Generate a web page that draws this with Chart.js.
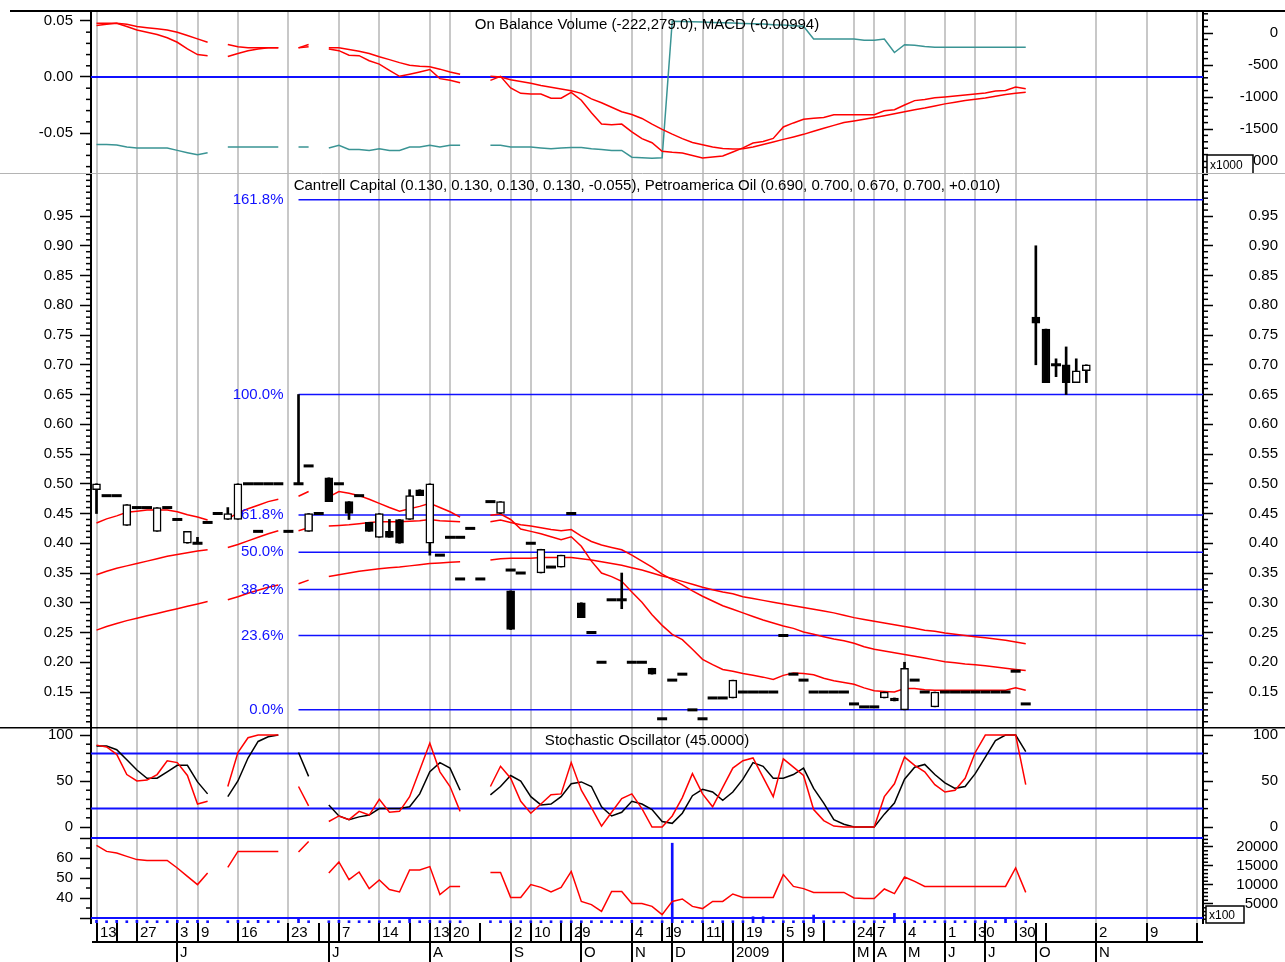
<!DOCTYPE html>
<html>
<head>
<meta charset="utf-8">
<script src="https://cdn.jsdelivr.net/npm/chart.js@4.4.1/dist/chart.umd.min.js"></script>
<style>
html, body { margin:0; padding:0; background:#fff; }
#wrap { position:relative; width:1285px; height:962px; overflow:hidden; background:#fff; }
#wrap canvas { position:absolute; left:0; }
</style>
</head>
<body>
<div id="wrap">
  <canvas id="cMacd" width="1285" height="173" style="top:0px"></canvas>
  <canvas id="cMain" width="1285" height="554" style="top:173px"></canvas>
  <canvas id="cStoch" width="1285" height="106" style="top:727px"></canvas>
  <canvas id="cRsi" width="1285" height="129" style="top:833px"></canvas>
</div>
<script>
// ---------------- DATA ----------------
// x positions are trading-slot indices 0..98
const TITLE_MACD = 'On Balance Volume (-222,279.0), MACD (-0.00994)';
const TITLE_MAIN = 'Cantrell Capital (0.130, 0.130, 0.130, 0.130, -0.055), Petroamerica Oil (0.690, 0.700, 0.670, 0.700, +0.010)';
const TITLE_STOCH = 'Stochastic Oscillator (45.0000)';

// Cantrell Capital OHLC
const A_OPEN = [.49,.48,.48,.43,.46,.46,.42,.46,.44,.40,
  .40,.435,null,.44,.44,.50,.50,.50,.50,null,
  .50,.53,null,.51,.50,.47,.48,.435,.41,.42,
  .44,.44,.49,.40,.38,.41,.41,null,null,.47,
  .45,.32,.35,.40,.35,.36,.36,.45,.30,.25,
  .20,.305,.305,.20,.20,.19,.105,.17,.18,.12,
  .105,.14,.14,.14,.15,.15,.15,.15,.245,.18,
  .17,.15,.15,.15,.15,.13,.125,.125,.14,.14,
  .12,.17,.15,.125,.15,.15,.15,.15,.15,.15,
  .15,.185,.13,null,null,null,null,null,null];
const A_HIGH = [.50,.48,.48,.465,.46,.46,.46,.46,.44,.42,
  .41,.435,null,.46,.50,.50,.50,.50,.50,null,
  .65,.53,null,.51,.50,.47,.48,.435,.45,.44,
  .44,.49,.49,.50,.38,.41,.41,null,null,.47,
  .47,.32,.35,.40,.39,.36,.38,.45,.30,.25,
  .20,.305,.35,.20,.20,.19,.105,.17,.18,.12,
  .105,.14,.14,.17,.15,.15,.15,.15,.245,.18,
  .17,.15,.15,.15,.15,.13,.125,.125,.15,.14,
  .20,.17,.15,.15,.15,.15,.15,.15,.15,.15,
  .15,.185,.13,null,null,null,null,null,null];
const A_LOW = [.45,.48,.48,.43,.46,.46,.42,.46,.44,.40,
  .40,.435,null,.44,.44,.50,.50,.50,.50,null,
  .50,.53,null,.47,.50,.44,.48,.42,.41,.41,
  .40,.44,.48,.38,.38,.41,.41,null,null,.47,
  .45,.255,.35,.40,.35,.36,.36,.45,.275,.25,
  .20,.305,.29,.20,.20,.18,.105,.17,.18,.12,
  .105,.14,.14,.14,.15,.15,.15,.15,.245,.18,
  .17,.15,.15,.15,.15,.13,.125,.125,.14,.135,
  .12,.17,.15,.125,.15,.15,.15,.15,.15,.15,
  .15,.185,.13,null,null,null,null,null,null];
const A_CLOSE = [.50,.48,.48,.465,.46,.46,.46,.46,.44,.42,
  .40,.435,null,.45,.50,.50,.50,.50,.50,null,
  .50,.53,null,.47,.50,.45,.48,.42,.45,.41,
  .40,.48,.48,.50,.38,.41,.41,null,null,.47,
  .47,.255,.35,.40,.39,.36,.38,.45,.275,.25,
  .20,.305,.305,.20,.20,.18,.105,.17,.18,.12,
  .105,.14,.14,.17,.15,.15,.15,.15,.245,.18,
  .17,.15,.15,.15,.15,.13,.125,.125,.15,.135,
  .19,.17,.15,.15,.15,.15,.15,.15,.15,.15,
  .15,.185,.13,null,null,null,null,null,null];

// Petroamerica Oil OHLC (sparse)
const B_IDX   = [12,16,19,21,22,36,37,38,41,93,94,95,96,97,98];
const B_OPEN  = [.45,.42,.42,.42,.45,.34,.425,.34,.355,.78,.76,.70,.70,.67,.69];
const B_HIGH  = [.45,.42,.42,.45,.45,.34,.425,.34,.355,.90,.76,.71,.73,.71,.70];
const B_LOW   = [.45,.42,.42,.42,.45,.34,.425,.34,.355,.70,.67,.68,.65,.67,.67];
const B_CLOSE = [.45,.42,.42,.45,.45,.34,.425,.34,.355,.77,.67,.70,.67,.69,.70];

// Moving averages (index 0..92)
const MA_FAST = [0.434,0.441,0.446,0.452,0.454,0.456,0.456,0.456,0.453,0.448,0.444,0.439,null,
  0.441,0.451,0.458,0.464,0.47,0.474,null,0.479,0.487,null,
  0.478,0.487,0.484,0.48,0.474,0.467,0.46,0.454,0.458,0.462,0.467,0.46,0.453,0.444,null,null,
  0.447,0.449,0.44,0.424,0.42,0.416,0.411,0.406,0.411,0.395,0.37,0.35,0.344,0.336,0.318,0.301,0.28,0.262,
  0.247,0.238,0.222,0.205,0.196,0.188,0.185,0.181,0.178,0.175,0.171,0.178,0.182,0.181,0.179,0.173,0.169,
  0.166,0.163,0.157,0.152,0.151,0.15,0.156,0.156,0.154,0.153,0.153,0.153,0.153,0.153,0.153,0.153,0.153,0.157,0.153];
const MA_MID = [0.347,0.353,0.358,0.362,0.366,0.37,0.374,0.378,0.381,0.384,0.387,0.389,null,
  0.393,0.398,0.404,0.41,0.416,0.421,null,0.421,0.426,null,
  0.429,0.43,0.431,0.433,0.435,0.436,0.436,0.436,0.437,0.438,0.44,0.438,0.437,0.436,null,null,
  0.436,0.439,0.435,0.431,0.429,0.426,0.423,0.421,0.423,0.412,0.403,0.397,0.393,0.389,0.38,0.37,0.36,0.348,
  0.339,0.33,0.32,0.311,0.303,0.295,0.289,0.283,0.277,0.271,0.266,0.261,0.257,0.251,0.247,0.243,0.239,
  0.236,0.232,0.226,0.222,0.219,0.216,0.213,0.21,0.207,0.204,0.201,0.199,0.197,0.196,0.194,0.192,0.19,0.188,0.186];
const MA_SLOW = [0.254,0.26,0.265,0.27,0.274,0.278,0.282,0.286,0.29,0.294,0.298,0.302,null,
  0.305,0.31,0.316,0.321,0.326,0.33,null,0.332,0.338,null,
  0.344,0.347,0.35,0.353,0.355,0.357,0.359,0.36,0.362,0.364,0.366,0.367,0.368,0.369,null,null,
  0.372,0.374,0.375,0.375,0.375,0.376,0.376,0.376,0.376,0.374,0.372,0.369,0.366,0.363,0.359,0.355,0.35,0.345,
  0.341,0.336,0.331,0.326,0.322,0.318,0.315,0.31,0.307,0.304,0.301,0.298,0.295,0.292,0.289,0.286,0.283,
  0.279,0.275,0.272,0.269,0.266,0.263,0.26,0.257,0.254,0.252,0.249,0.247,0.245,0.243,0.241,0.239,0.237,0.234,0.231];

// MACD, signal, On Balance Volume (x1000)
const MACD = [0.046,0.047,0.048,0.045,0.042,0.04,0.038,0.035,0.031,0.025,0.02,0.019,null,
  0.0183,0.021,0.0235,0.025,0.026,0.026,null,0.026,0.029,null,
  0.025,0.0235,0.0195,0.019,0.0145,0.0115,0.006,0.0006,0.0025,0.0045,0.0067,-0.0015,-0.003,-0.0052,null,null,
  -0.003,0.0006,-0.0098,-0.0146,-0.0152,-0.0152,-0.0189,-0.0189,-0.0137,-0.0207,-0.032,-0.042,-0.0427,-0.042,
  -0.049,-0.055,-0.0587,-0.0663,-0.0672,-0.0678,-0.07,-0.0723,-0.0715,-0.0705,-0.067,-0.0633,-0.059,-0.0575,
  -0.0548,-0.0446,-0.041,-0.0377,-0.0368,-0.0361,-0.0337,-0.0337,-0.0337,-0.0337,-0.0337,-0.0301,-0.0292,
  -0.025,-0.0211,-0.02,-0.0185,-0.0178,-0.017,-0.016,-0.0152,-0.0143,-0.0125,-0.0121,-0.009,-0.0105];
const MACD_SIGNAL = [0.048,0.048,0.048,0.047,0.045,0.044,0.043,0.042,0.04,0.037,0.034,0.031,null,
  0.029,0.027,0.026,0.026,0.026,0.026,null,0.026,0.027,null,
  0.026,0.026,0.0245,0.023,0.021,0.018,0.0155,0.0128,0.0105,0.0095,0.0091,0.007,0.0045,0.0024,null,null,
  0.0006,0,-0.0024,-0.004,-0.0055,-0.0075,-0.0091,-0.0107,-0.0122,-0.0146,-0.0195,-0.023,-0.027,-0.031,
  -0.0335,-0.037,-0.042,-0.0467,-0.051,-0.055,-0.0585,-0.0605,-0.0625,-0.0638,-0.0642,-0.064,-0.0625,-0.0602,
  -0.058,-0.0557,-0.0535,-0.0512,-0.0485,-0.0458,-0.0432,-0.0407,-0.0392,-0.0377,-0.0362,-0.0346,-0.0328,
  -0.031,-0.0293,-0.0277,-0.0258,-0.024,-0.0225,-0.021,-0.0198,-0.0187,-0.0172,-0.0157,-0.0146,-0.0136];
const OBV = [-1744,-1744,-1750,-1780,-1797,-1797,-1797,-1797,-1834,-1870,-1903,-1870,null,
  -1781,-1781,-1781,-1781,-1781,-1781,null,-1781,-1781,null,
  -1797,-1755,-1819,-1819,-1834,-1810,-1834,-1834,-1781,-1781,-1755,-1781,-1755,-1755,null,null,
  -1755,-1755,-1781,-1781,-1781,-1797,-1810,-1797,-1790,-1790,-1810,-1819,-1834,-1834,-1941,-1950,-1956,-1950,
  184,180,175,170,165,160,155,150,145,140,130,125,115,105,
  -94,-94,-94,-94,-94,-115,-115,-94,-305,-184,-190,-211,
  -222,-222,-222,-222,-222,-222,-222,-222,-222,-222];

// Stochastic %K (red) and %D (black)
const STOCH_K = [89,87,79,57,50,51,57,72,70,56,25,28,null,
  44,81,97,100,100,100,null,44,23,null,
  6,12,8,17,13,30,16,17,33,62,91,60,44,17,null,null,
  44,66,53,28,15,25,35,36,70,40,21,1,16,31,36,20,0,0,12,32,58,36,22,43,64,72,75,54,33,74,65,56,
  19,7,1,0,0,0,0,33,47,76,67,60,46,38,40,53,81,100,100,100,100,46];
const STOCH_D = [88,88,84,73,62,53,53,60,67,67,49,36,null,
  33,50,75,93,98,100,null,81,55,null,
  24,12,8,11,13,20,20,20,22,36,60,70,64,40,null,null,
  35,44,56,50,33,24,25,33,47,49,44,22,12,16,28,25,19,6,4,15,34,41,38,29,38,52,70,66,53,53,57,64,
  42,26,8,3,0,0,0,14,26,52,65,68,57,48,42,44,58,76,94,100,100,82];

// RSI (red, left axis) and volume (blue, x100, right axis)
const RSI = [66.3,63.3,62.5,60.8,59.2,58.8,58.8,58.8,55,50.8,46.7,52.5,null,
  55.3,63.3,63.3,63.3,63.3,63.3,null,63,68.3,null,
  52.5,58,49.2,53,44.7,49,44.2,43,54,54,55.7,41.7,45.8,45.8,null,null,
  52.8,52.8,40.3,40.3,46.7,45.3,43,45.3,53.3,38.3,36.7,33.3,43.3,43.3,37.2,37.2,35.8,31.7,38.3,39.5,
  35.8,34.7,38.3,38.3,42,40.3,40.3,40.3,40.3,51.7,45.8,44.7,42.8,42.8,42.8,42.8,40,39.7,39.7,44.5,
  42.2,50.5,48.3,45.8,45.8,45.8,45.8,45.8,45.8,45.8,45.8,45.8,55,42.8];
const VOLUME = [700,600,700,600,700,600,600,600,700,600,700,600,null,
  600,700,600,700,600,600,null,1400,600,null,
  600,700,600,600,600,600,600,600,1200,600,700,600,600,600,null,null,
  600,600,600,600,600,600,600,600,600,600,600,600,600,600,700,600,600,600,
  21000,600,600,600,600,600,600,600,1650,1650,600,600,600,600,2100,
  600,600,600,600,600,600,600,2550,600,600,600,600,600,600,600,600,600,600,1400,600,600];

// Fibonacci retracement
const FIB_LEVELS = [0, 23.6, 38.2, 50, 61.8, 100, 161.8];
const FIB_LOW = 0.12, FIB_HIGH = 0.65, FIB_START = 20;

// Date axis
const DAY_TICK_POS = [0,2,4,8,10,14,19,22,23,24,28,31,33,35,38,41,43,46,47,48,53,56,57,60,62,63,64,68,70,72,75,77,80,84,87,88,91,93,94,99,104,109];
const DAY_LABEL_POS = [0,4,8,10,14,19,24,28,33,35,41,43,47,53,56,60,64,68,70,75,77,80,84,87,91,99,104];
const DAY_LABEL_TEXT = ['13','27','3','9','16','23','7','14','13','20','2','10','29','4','19','11','19','5','9','24','7','4','1','30','30','2','9'];
const MONTH_POS = [8,23,33,41,48,53,57,63,68,75,77,80,84,88,93,99];
const MONTH_TEXT = ['J','J','A','S','O','N','D','2009','','M','A','M','J','J','O','N'];
const GRID_IDX = [0,4,8,10,14,19,24,28,33,35,41,43,47,53,56,60,64,68,70,75,77,80,84,87,91,99,104,109];

// Axis ticks
const MACD_TICKS = [-0.05, 0, 0.05];
const OBV_TICKS = [-2000, -1500, -1000, -500, 0];
const PRICE_TICKS = [0.15,0.20,0.25,0.30,0.35,0.40,0.45,0.50,0.55,0.60,0.65,0.70,0.75,0.80,0.85,0.90,0.95];
const STOCH_TICKS = [0, 50, 100];
const STOCH_LINES = [20, 80];
const RSI_TICKS = [30, 40, 50, 60, 70];
const RSI_LINES = [30, 70];
const VOL_TICKS = [5000, 10000, 15000, 20000];

// ---------------- STYLE / HELPERS ----------------
const FONT = "'Liberation Sans', Arial, Helvetica, sans-serif";
Chart.defaults.font.family = FONT;
Chart.defaults.font.size = 15;
Chart.defaults.color = '#000';
const X_MIN = -0.545, X_MAX = 109.55;
const RED = '#ff0000', BLUE = '#1010ff', TEAL = '#3a9494', GRID = '#c8c8c8';

const pts = arr => arr.map((v, i) => ({x: i, y: v}));
const hline = (v, x0) => [{x: x0 === undefined ? X_MIN : x0, y: v}, {x: X_MAX, y: v}];
function steps(a, b, s, skip) {
  const out = [];
  for (let k = Math.round(a / s); k <= Math.round(b / s); k++) {
    const v = +(k * s).toFixed(6);
    if (!skip.some(m => Math.abs(m - v) < s / 10)) out.push(v);
  }
  return out;
}
function seg(ctx, x1, y1, x2, y2) { ctx.beginPath(); ctx.moveTo(x1, y1); ctx.lineTo(x2, y2); ctx.stroke(); }

function xScale() {
  return {
    type: 'linear', min: X_MIN, max: X_MAX, offset: false, bounds: 'data',
    afterBuildTicks: s => { s.ticks = GRID_IDX.map(v => ({value: v})); s.min = X_MIN; s.max = X_MAX; },
    afterFit: s => { s.height = 0; s.paddingLeft = 0; s.paddingRight = 0; },
    ticks: {display: false},
    grid: {display: true, drawOnChartArea: true, drawTicks: false, color: GRID, lineWidth: 2, offset: false},
    border: {display: false}
  };
}
function yScale(pos, min, max, majors, fmt) {
  const left = pos === 'left';
  return {
    type: 'linear', position: pos, min, max, bounds: 'data',
    afterBuildTicks: s => { s.ticks = majors.map(v => ({value: v})); s.min = min; s.max = max; },
    afterFit: s => { s.width = left ? 91 : 75; s.paddingTop = 0; s.paddingBottom = 0; },
    ticks: {callback: fmt, font: {family: FONT, size: 15}, color: '#000', padding: left ? 7 : 0,
            crossAlign: left ? 'near' : 'far', autoSkip: false},
    grid: {drawOnChartArea: false, drawTicks: true, tickLength: left ? 11 : 10, tickColor: '#000', tickWidth: 1.5},
    border: {display: true, color: '#000', width: 2}
  };
}
function baseOptions(scales, padding) {
  return {
    responsive: false, maintainAspectRatio: false, animation: false, events: [],
    layout: {padding, autoPadding: false},
    plugins: {legend: {display: false}, tooltip: {enabled: false}},
    scales
  };
}
function lineDS(data, color, width, axis, order) {
  return {type: 'line', data, borderColor: color, backgroundColor: color, borderWidth: width,
          pointRadius: 0, spanGaps: false, fill: false, tension: 0, yAxisID: axis || 'y', order: order || 3};
}
function minorTicks(list) {
  return {
    id: 'minorTicks',
    afterDraw(chart) {
      const ctx = chart.ctx, a = chart.chartArea;
      ctx.save(); ctx.strokeStyle = '#000'; ctx.lineWidth = 1.5;
      list.forEach(m => {
        const s = chart.scales[m.axis];
        m.values.forEach(v => {
          const y = s.getPixelForValue(v);
          if (m.side === 'left') seg(ctx, a.left - 5, y, a.left, y);
          else seg(ctx, a.right, y, a.right + 5, y);
        });
      });
      ctx.restore();
    }
  };
}
function titleText(ctx, a, text, dy) {
  ctx.fillStyle = '#000'; ctx.font = '15px ' + FONT; ctx.textAlign = 'center'; ctx.textBaseline = 'middle';
  ctx.fillText(text, (a.left + a.right) / 2, a.top + dy);
}
function unitBox(ctx, x, y, w, h, text) {
  ctx.fillStyle = '#fff'; ctx.fillRect(x, y, w, h);
  ctx.strokeStyle = '#000'; ctx.lineWidth = 1.5; ctx.strokeRect(x, y, w, h);
  ctx.fillStyle = '#000'; ctx.font = '12px ' + FONT; ctx.textAlign = 'left'; ctx.textBaseline = 'middle';
  ctx.fillText(text, x + 3, y + h / 2 + 1);
}

// ---------------- PANEL 1 : MACD + OBV ----------------
new Chart(document.getElementById('cMacd'), {
  type: 'line',
  data: {datasets: [
    lineDS(hline(0), BLUE, 2, 'y', 5),
    lineDS(pts(OBV), TEAL, 1.5, 'y2', 4),
    lineDS(pts(MACD_SIGNAL), RED, 1.5, 'y', 3),
    lineDS(pts(MACD), RED, 1.5, 'y', 2)
  ]},
  options: baseOptions({
    x: xScale(),
    y: yScale('left', -0.0857, 0.0589, MACD_TICKS, v => v.toFixed(2)),
    y2: yScale('right', -2187.5, 343.75, OBV_TICKS, v => String(v))
  }, {top: 11, right: 7, left: 0, bottom: 0}),
  plugins: [minorTicks([
    {axis: 'y', side: 'left', values: steps(-0.08, 0.05, 0.01, MACD_TICKS)},
    {axis: 'y2', side: 'right', values: steps(-2100, 300, 100, OBV_TICKS)}
  ]), {
    id: 'deco1',
    afterDraw(chart) {
      const ctx = chart.ctx, a = chart.chartArea;
      ctx.save();
      ctx.strokeStyle = '#000'; ctx.lineWidth = 2;
      seg(ctx, 10, a.top, chart.width, a.top);
      titleText(ctx, a, TITLE_MACD, 14);
      const yb = chart.scales.y2.getPixelForValue(-2000);
      unitBox(ctx, a.right + 4, yb - 6, 46, 20, 'x1000');
      ctx.restore();
    }
  }]
});

// ---------------- PANEL 2 : PRICE ----------------
function candleParts(idx, O, H, L, C) {
  const bodies = [], colors = [], dojis = [], wicks = [];
  idx.forEach((x, k) => {
    const o = O[k], h = H[k], l = L[k], c = C[k];
    if (o === null || o === undefined) return;
    if (h > l) wicks.push({x, y: [l, h]});
    if (o === c) dojis.push({x, y: c});
    else { bodies.push({x, y: [o, c]}); colors.push(c > o ? '#ffffff' : '#000000'); }
  });
  return {bodies, colors, dojis, wicks};
}
const A_IDX = A_OPEN.map((_, i) => i);
const cA = candleParts(A_IDX, A_OPEN, A_HIGH, A_LOW, A_CLOSE);
const cB = candleParts(B_IDX, B_OPEN, B_HIGH, B_LOW, B_CLOSE);
const fibValue = lv => FIB_LOW + (FIB_HIGH - FIB_LOW) * lv / 100;

const mainSets = [];
FIB_LEVELS.forEach(lv => mainSets.push(lineDS(hline(fibValue(lv), FIB_START), BLUE, 1.5, 'y', 6)));
mainSets.push(lineDS(pts(MA_SLOW), RED, 1.5, 'y', 5));
mainSets.push(lineDS(pts(MA_MID), RED, 1.5, 'y', 5));
mainSets.push(lineDS(pts(MA_FAST), RED, 1.5, 'y', 5));
mainSets.push({type: 'bar', data: cA.wicks.concat(cB.wicks), backgroundColor: '#000', borderWidth: 0,
  barThickness: 2, grouped: false, yAxisID: 'y', order: 2});
mainSets.push({type: 'bar', data: cA.bodies.concat(cB.bodies), backgroundColor: cA.colors.concat(cB.colors),
  borderColor: '#000', borderWidth: 1.5, borderSkipped: false, barThickness: 8, grouped: false, yAxisID: 'y', order: 1});
mainSets.push({type: 'line', data: cA.dojis.concat(cB.dojis), showLine: false, pointStyle: 'line',
  pointRadius: 5, pointBorderWidth: 3, pointBorderColor: '#000', pointBackgroundColor: '#000', yAxisID: 'y', order: 0});

new Chart(document.getElementById('cMain'), {
  type: 'line',
  data: {datasets: mainSets},
  options: baseOptions({
    x: xScale(),
    y: yScale('left', 0.0912, 1.0223, PRICE_TICKS, v => v.toFixed(2)),
    y2: yScale('right', 0.0912, 1.0223, PRICE_TICKS, v => v.toFixed(2))
  }, {top: 0, right: 7, left: 0, bottom: 0}),
  plugins: [minorTicks([
    {axis: 'y', side: 'left', values: steps(0.10, 1.02, 0.01, PRICE_TICKS)},
    {axis: 'y2', side: 'right', values: steps(0.10, 1.02, 0.01, PRICE_TICKS)}
  ]), {
    id: 'deco2',
    afterDraw(chart) {
      const ctx = chart.ctx, a = chart.chartArea, xs = chart.scales.x, ys = chart.scales.y;
      ctx.save();
      ctx.strokeStyle = '#b4b4b4'; ctx.lineWidth = 1;
      seg(ctx, 0, 0.5, chart.width, 0.5);
      titleText(ctx, a, TITLE_MAIN, 13);
      ctx.fillStyle = BLUE; ctx.font = '15px ' + FONT; ctx.textAlign = 'right'; ctx.textBaseline = 'middle';
      const x0 = xs.getPixelForValue(FIB_START) - 15;
      FIB_LEVELS.forEach(lv => ctx.fillText(lv.toFixed(1) + '%', x0, ys.getPixelForValue(fibValue(lv))));
      ctx.restore();
    }
  }]
});

// ---------------- PANEL 3 : STOCHASTIC ----------------
new Chart(document.getElementById('cStoch'), {
  type: 'line',
  data: {datasets: [
    lineDS(hline(STOCH_LINES[0]), BLUE, 2, 'y', 5),
    lineDS(hline(STOCH_LINES[1]), BLUE, 2, 'y', 5),
    lineDS(pts(STOCH_D), '#000', 1.5, 'y', 3),
    lineDS(pts(STOCH_K), RED, 1.5, 'y', 2)
  ]},
  options: baseOptions({
    x: xScale(),
    y: yScale('left', -6.52, 108.7, STOCH_TICKS, v => String(v)),
    y2: yScale('right', -6.52, 108.7, STOCH_TICKS, v => String(v))
  }, {top: 0, right: 7, left: 0, bottom: 0}),
  plugins: [minorTicks([
    {axis: 'y', side: 'left', values: steps(-5, 105, 10, STOCH_TICKS.concat([-5, 105]))},
    {axis: 'y2', side: 'right', values: steps(-5, 105, 10, STOCH_TICKS.concat([-5, 105]))}
  ]), {
    id: 'deco3',
    afterDraw(chart) {
      const ctx = chart.ctx, a = chart.chartArea;
      ctx.save();
      ctx.strokeStyle = '#000'; ctx.lineWidth = 1.5;
      seg(ctx, 0, 0.75, chart.width, 0.75);
      titleText(ctx, a, TITLE_STOCH, 14);
      ctx.restore();
    }
  }]
});

// ---------------- PANEL 4 : RSI + VOLUME + DATE AXIS ----------------
const volPts = VOLUME.map((v, i) => ({x: i, y: v})).filter(p => p.y !== null);
new Chart(document.getElementById('cRsi'), {
  type: 'line',
  data: {datasets: [
    lineDS(hline(RSI_LINES[0]), BLUE, 2, 'y', 5),
    lineDS(hline(RSI_LINES[1]), BLUE, 2, 'y', 5),
    {type: 'bar', data: volPts, backgroundColor: BLUE, borderWidth: 0, barThickness: 2, grouped: false, yAxisID: 'y2', order: 4},
    lineDS(pts(RSI), RED, 1.5, 'y', 2)
  ]},
  options: baseOptions({
    x: xScale(),
    y: yScale('left', 27.5, 72.5, RSI_TICKS, v => (v === 30 || v === 70) ? '' : String(v)),
    y2: yScale('right', 0, 23684, VOL_TICKS, v => String(v))
  }, {top: 0, right: 7, left: 0, bottom: 39}),
  plugins: [minorTicks([
    {axis: 'y', side: 'left', values: steps(35, 65, 5, RSI_TICKS)},
    {axis: 'y2', side: 'right', values: steps(1000, 23000, 1000, VOL_TICKS)}
  ]), {
    id: 'deco4',
    afterDraw(chart) {
      const ctx = chart.ctx, a = chart.chartArea, xs = chart.scales.x;
      ctx.save();
      unitBox(ctx, a.right + 3, a.bottom - 17, 38, 17, 'x100');
      const rowTop = a.bottom, sepY = a.bottom + 19, bottom = chart.height;
      ctx.strokeStyle = '#000'; ctx.lineWidth = 2;
      seg(ctx, a.left + 1, sepY, a.right, sepY);
      DAY_TICK_POS.forEach(i => { const x = Math.round(xs.getPixelForValue(i)); seg(ctx, x, rowTop, x, sepY); });
      MONTH_POS.forEach(i => { const x = Math.round(xs.getPixelForValue(i)); seg(ctx, x, sepY, x, bottom); });
      ctx.fillStyle = '#000'; ctx.font = '15px ' + FONT; ctx.textAlign = 'left'; ctx.textBaseline = 'middle';
      DAY_LABEL_POS.forEach((i, k) => ctx.fillText(DAY_LABEL_TEXT[k], Math.round(xs.getPixelForValue(i)) + 3, rowTop + 10));
      MONTH_POS.forEach((i, k) => ctx.fillText(MONTH_TEXT[k], Math.round(xs.getPixelForValue(i)) + 3, sepY + 11));
      ctx.restore();
    }
  }]
});
</script>
</body>
</html>
